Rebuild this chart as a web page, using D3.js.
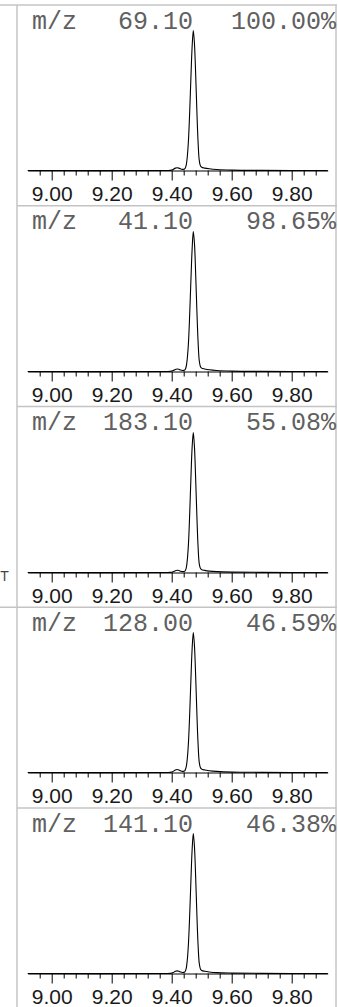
<!DOCTYPE html>
<html>
<head>
<meta charset="utf-8">
<script src="https://cdn.jsdelivr.net/npm/d3@7"></script>
<style>
  html, body { margin: 0; padding: 0; background: #fff; }
  svg { display: block; }
</style>
</head>
<body>
<script>
// ---- data ----
const mzLabels = ["69.10", "41.10", "183.10", "128.00", "141.10"];
const pctLabels = ["100.00%", "98.65%", "55.08%", "46.59%", "46.38%"];
const majorTicks = [9.00, 9.20, 9.40, 9.60, 9.80];
const minorTicks = [8.96, 9.04, 9.08, 9.12, 9.16, 9.24, 9.28, 9.32, 9.36, 9.44, 9.48, 9.52, 9.56, 9.64, 9.68, 9.72, 9.76, 9.84, 9.88];
const rtValues = [8.92, 9.38, 9.395, 9.405, 9.412, 9.418, 9.424, 9.430, 9.436, 9.440, 9.444, 9.448, 9.452, 9.456, 9.460, 9.464, 9.468, 9.472, 9.476, 9.480, 9.484, 9.488, 9.492, 9.496, 9.500, 9.510, 9.525, 9.550, 9.600, 9.700, 9.920];
const ion69  = [0, 0, 0.1, 0.8, 1.7, 2.0, 1.7, 1.1, 0.8, 0.9, 1.3, 3.5, 10, 22, 42, 66, 88, 100, 90, 68, 42, 20, 7, 3.2, 2.3, 1.7, 1.2, 0.7, 0.3, 0.1, 0];
const ion41  = [0, 0, 0.1, 0.7, 1.5, 1.8, 1.6, 1.0, 0.7, 0.8, 1.2, 3.2, 9.5, 21, 41, 65, 87, 100, 91, 69, 43, 21, 7.5, 3.4, 2.4, 1.8, 1.2, 0.7, 0.3, 0.1, 0];
const ion183 = [0, 0, 0.1, 0.6, 1.3, 1.6, 1.4, 0.9, 0.6, 0.7, 1.0, 2.8, 9, 21, 42, 67, 89, 100, 89, 66, 40, 18, 6, 2.8, 2.0, 1.5, 1.0, 0.6, 0.3, 0.1, 0];
const ion128 = [0, 0, 0.1, 0.8, 1.8, 2.1, 1.8, 1.2, 0.8, 0.9, 1.4, 3.6, 10, 22, 42, 66, 88, 100, 90, 68, 42, 20, 7, 3.3, 2.4, 1.8, 1.3, 0.8, 0.3, 0.1, 0];
const ion141 = [0, 0, 0.1, 0.7, 1.6, 1.9, 1.6, 1.0, 0.7, 0.8, 1.2, 3.3, 9.8, 22, 42, 66, 88, 100, 90, 68, 42, 20, 7, 3.1, 2.2, 1.6, 1.1, 0.6, 0.3, 0.1, 0];
const traces = [ion69, ion41, ion183, ion128, ion141];

// ---- layout ----
const W = 338, H = 1007;
const frameTop = 5, panelStep = 200.75;
const leftCol = 17, rightEdge = 336;
const frameColor = "#c4c4c4";

const svg = d3.select("body").append("svg").attr("width", W).attr("height", H);

const x = d3.scaleLinear().domain([8.92, 9.92]).range([27.7, 327.7]);

// frame
svg.append("line").attr("x1", 0).attr("x2", rightEdge + 1).attr("y1", frameTop).attr("y2", frameTop)
  .attr("stroke", frameColor).attr("stroke-width", 1.5);
svg.append("line").attr("x1", leftCol).attr("x2", leftCol).attr("y1", frameTop).attr("y2", H)
  .attr("stroke", frameColor).attr("stroke-width", 1.5);
svg.append("line").attr("x1", rightEdge).attr("x2", rightEdge).attr("y1", frameTop).attr("y2", H)
  .attr("stroke", frameColor).attr("stroke-width", 1.5);

svg.append("text").attr("x", 4.5).attr("y", 581).attr("text-anchor", "middle")
  .attr("font-family", "Liberation Sans, Arial, sans-serif").attr("font-size", 14)
  .attr("fill", "#444").text("T");

traces.forEach((vals, i) => {
  const top = frameTop + i * panelStep;
  const axisY = Math.round(top + 165) + 0.5;
  if (i > 0) {
    svg.append("line").attr("x1", i === 3 ? 0 : leftCol).attr("x2", rightEdge + 1)
      .attr("y1", top).attr("y2", top).attr("stroke", frameColor).attr("stroke-width", 1.5);
  }
  const y = d3.scaleLinear().domain([0, 100]).range([axisY, axisY - 140]);
  const g = svg.append("g");

  // title
  const tf = "Liberation Mono, Courier New, monospace";
  g.append("text").attr("x", 32).attr("y", top + 23.5).attr("font-family", tf)
    .attr("font-size", 25).attr("fill", "#606060").text("m/z");
  g.append("text").attr("x", 193).attr("y", top + 23.5).attr("text-anchor", "end").attr("font-family", tf)
    .attr("font-size", 25).attr("fill", "#606060").text(mzLabels[i]);
  g.append("text").attr("x", 336).attr("y", top + 23.5).attr("text-anchor", "end").attr("font-family", tf)
    .attr("font-size", 25).attr("fill", "#606060").text(pctLabels[i]);

  // axes
  const minorAxis = d3.axisBottom(x).tickValues(minorTicks).tickSize(5).tickSizeOuter(0).tickFormat("");
  const majorAxis = d3.axisBottom(x).tickValues(majorTicks).tickSize(10).tickSizeOuter(0)
    .tickPadding(6).tickFormat(d3.format(".2f"));
  const ga = g.append("g").attr("transform", `translate(0,${axisY})`).call(majorAxis);
  const gm = g.append("g").attr("transform", `translate(0,${axisY})`).call(minorAxis);
  gm.select(".domain").remove();
  ga.select(".domain").attr("stroke", "#000").attr("stroke-width", 1.2);
  ga.selectAll(".tick line").attr("stroke", "#000").attr("stroke-width", 1);
  gm.selectAll(".tick line").attr("stroke", "#000").attr("stroke-width", 1);
  ga.selectAll(".tick text").attr("font-family", "Liberation Sans, Arial, sans-serif")
    .attr("font-size", 21).attr("fill", "#1a1a1a");

  // trace
  const line = d3.line().x((d, k) => x(rtValues[k])).y(d => y(d)).curve(d3.curveCatmullRom.alpha(0.5));
  g.append("path").datum(vals).attr("d", line).attr("fill", "none")
    .attr("stroke", "#000").attr("stroke-width", 1.1);
});
</script>
</body>
</html>
